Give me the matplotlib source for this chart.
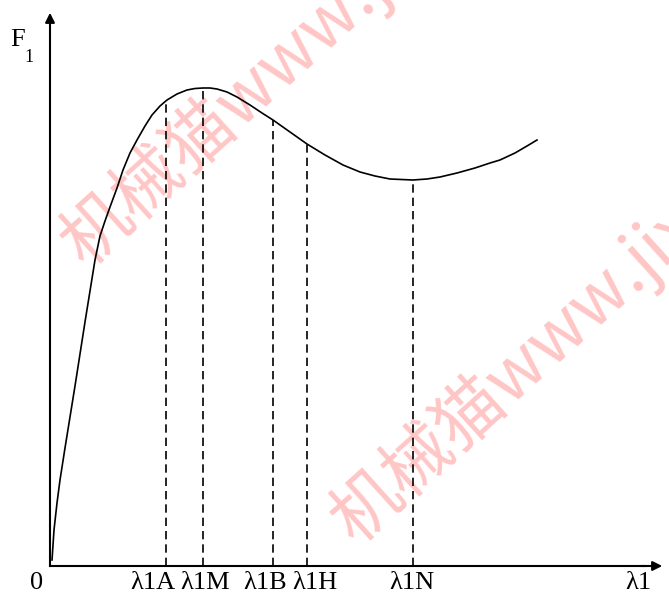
import matplotlib
matplotlib.use("Agg")
import matplotlib.pyplot as plt

# curve (origin at the axis corner, y up)
lam = [2, 4, 7, 10, 15, 20, 25, 30, 35, 40, 45, 50, 55, 60, 67, 73, 80, 87,
       95, 102, 110, 117, 127, 137, 145, 153, 160, 167, 177, 187, 200, 212,
       223, 240, 257, 275, 293, 310, 325, 340, 363, 377, 390, 407, 425, 440,
       450, 465, 477, 487]
F = [6, 36, 63, 86, 118, 149, 180, 212, 244, 275, 306, 330, 345, 359, 378,
     396, 413, 426, 440, 451, 460, 466, 472, 476, 477.5, 478, 478, 477, 474,
     469, 461, 453, 446, 434, 422, 411, 401, 394, 390, 387, 386, 387, 389,
     393, 398, 403, 406, 413, 420, 426]

# dashed marker lines: position and the curve height they reach
mark_x = [116, 153, 223, 257, 363]
mark_top = [466, 478, 446, 422, 386]
mark_labels = ["λ1A", "λ1M", "λ1B", "λ1H", "λ1N"]
label_x = [103, 155, 215, 265, 362]

fig = plt.figure(figsize=(6.69, 6.0), dpi=100)
ax = fig.add_axes([0, 0, 1, 1])
ax.set_xlim(-50, 619)
ax.set_ylim(-34, 566)
ax.axis("off")

serif = "Liberation Serif"

# watermark
for (x0, y0), wm in zip([(21, 313), (291, 36)], ["机械猫www.ji", "机械猫www.jix"]):
    ax.text(x0, y0, wm, rotation=42, rotation_mode="anchor", ha="left", va="center",
            fontsize=50, color="#ffc6c6", family=["Noto Sans CJK SC", "DejaVu Sans"],
            zorder=0)

# axes with arrows
ax.plot([0, 0], [0, 530], color="black", lw=1.5)
ax.annotate("", xy=(0, 556), xytext=(0, 528),
            arrowprops=dict(arrowstyle="-|>", color="black", lw=1.5, mutation_scale=14))
ax.plot([0, 595], [0, 0], color="black", lw=1.5)
ax.annotate("", xy=(615, 0), xytext=(588, 0),
            arrowprops=dict(arrowstyle="-|>", color="black", lw=1.5, mutation_scale=14))

ax.plot(lam, F, color="black", lw=1.2)

for x, top in zip(mark_x, mark_top):
    ax.plot([x, x], [0, top], color="black", lw=1.2, dashes=(5, 3))

for x, s in zip(label_x, mark_labels):
    ax.text(x, -17, s, ha="center", va="center", fontsize=19, family=serif)

ax.text(-7, -17, "0", ha="right", va="center", fontsize=19, family=serif)
ax.text(588, -17, "λ1", ha="center", va="center", fontsize=19, family=serif)
ax.text(-40, 526, "F", ha="left", va="center", fontsize=19, family=serif)
ax.text(-26, 509, "1", ha="left", va="center", fontsize=13, family=serif)

fig.savefig("out.png", dpi=100)
